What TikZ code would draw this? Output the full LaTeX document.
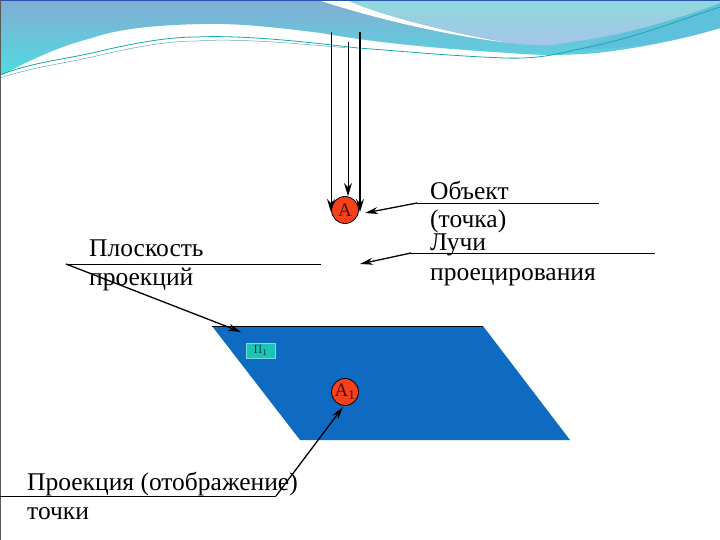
\documentclass[tikz,border=0pt]{standalone}
\usepackage{fontspec}
\setmainfont{Liberation Serif}
\usetikzlibrary{arrows.meta}
\definecolor{planeblue}{HTML}{0F6AC2}
\definecolor{dotred}{HTML}{F5401C}
\definecolor{tealbox}{HTML}{1CC4B8}
\definecolor{hdtop}{HTML}{82ADD2}
\definecolor{hdmid}{HTML}{80B8D8}
\definecolor{hdbot}{HTML}{4FDCE2}
\definecolor{paletop}{HTML}{8FD8DC}
\definecolor{palebot}{HTML}{A6C4EA}
\definecolor{bandteal}{HTML}{5FC0DC}
\tikzset{
 x=1pt,y=-1pt,
 lbl/.style={anchor=base west,inner sep=0,font=\fontsize{25.5}{25.5}\selectfont},
 pt/.style={circle,draw=black,line width=0.8pt,fill=dotred,minimum size=27pt,inner sep=0,text=black!70!dotred,font=\fontsize{19}{19}\selectfont},
 rule/.style={black,line width=0.9pt},
 arr/.style={black,line width=1.3pt,-{Stealth[length=13pt,width=7pt]}},
 ray/.style={black,line width=1pt,-{Stealth[length=13pt,width=8pt]}}
}
\begin{document}
\begin{tikzpicture}
\useasboundingbox (0,0) rectangle (720,540);
\fill[white] (0,0) rectangle (720,540);
% header waves
\shade[top color=hdtop,middle color=hdmid,bottom color=hdbot] (0,0) -- (720,0) -- (720,28) .. controls (680,40) and (640,48) .. (597,53) .. controls (560,56) and (530,55) .. (510,53) .. controls (440,49) and (370,42) .. (321,33) .. controls (280,28) and (240,23) .. (202,24) .. controls (160,25) and (120,28) .. (92,38) .. controls (60,46) and (30,60) .. (0,76) -- cycle;
\fill[bandteal] (720,2) -- (720,28) .. controls (680,40) and (640,48) .. (574,50) .. controls (620,35) and (680,15) .. (720,2) -- cycle;
\fill[white] (321,1) -- (349,1) .. controls (380,15) and (450,33) .. (510,43) .. controls (450,36) and (380,20) .. (321,1) -- cycle;
\shade[top color=paletop,bottom color=palebot] (349,1) -- (720,1) -- (720,3) .. controls (680,18) and (630,35) .. (551,45) .. controls (535,46) and (520,44) .. (510,43) .. controls (450,33) and (380,15) .. (349,1) -- cycle;
\draw[teal!60!cyan!80!gray,line width=0.8pt] (0,75) .. controls (30,63) and (60,60) .. (92,53) .. controls (130,44) and (165,37) .. (197,37) .. controls (240,35) and (300,41) .. (358,48) .. controls (400,51) and (450,56) .. (505,58) .. controls (535,59) and (555,55) .. (574,50) .. controls (630,40) and (680,20) .. (720,7);
\draw[gray!50!cyan,line width=0.5pt] (0,78) .. controls (30,68) and (60,64) .. (92,57) .. controls (130,48) and (165,41) .. (197,41) .. controls (240,38) and (300,44) .. (349,48);
\draw[teal!50!blue!70!gray,line width=1pt] (0,0.5) -- (720,0.5);
\draw[gray!70!black,line width=1pt] (0.5,0) -- (0.5,540) -- (720,540);
% plane
\fill[planeblue] (212,326) -- (483,326) -- (570,440) -- (300,440) -- cycle;
\draw[black,line width=0.7pt] (212,326) -- (483,326);
\node[fill=tealbox,draw=tealbox!60!white,line width=0.5pt,minimum width=29pt,minimum height=15pt,inner sep=0,font=\fontsize{13}{13}\selectfont,text=black!60!teal] (pi) at (260.5,350.5) {$\Pi_1$};
% points
\node[pt] (A) at (345,210) {A};
\node[pt] (A1) at (345,392) {A\textsubscript{1}};
% rays
\coordinate (r1s) at (331,32);
\coordinate (r1e) at (331,212);
\coordinate (r2s) at (348,42);
\coordinate (r2e) at (348,196);
\coordinate (r3s) at (360,32);
\coordinate (r3e) at (360,212);
\draw[ray] (r1s) -- (r1e);
\draw[ray,line width=0.8pt] (r2s) -- (r2e);
\draw[ray,line width=1.5pt] (r3s) -- (r3e);
% labels
\node[lbl] (t1) at (430,200) {Объект};
\node[lbl] (t2) at (430,228) {(точка)};
\node[lbl] (t3) at (430,251) {Лучи};
\node[lbl] (t4) at (430,280) {проецирования};
\node[lbl] (t5) at (89,256) {Плоскость};
\node[lbl] (t6) at (89,285) {проекций};
\node[lbl] (t7) at (27,490) {Проекция (отображение)};
\node[lbl] (t8) at (27,519) {точки};
% leaders
\coordinate (o1) at (599,203);
\coordinate (o2) at (417,203);
\coordinate (o3) at (365,213);
\draw[rule] (o1) -- (o2);
\draw[arr] (o2) -- (o3);
\coordinate (l1) at (655,253);
\coordinate (l2) at (411,253);
\coordinate (l3) at (360,264);
\draw[rule] (l1) -- (l2);
\draw[arr] (l2) -- (l3);
\coordinate (p1) at (321,264);
\coordinate (p2) at (66,264);
\coordinate (p3) at (241,332);
\draw[rule] (p1) -- (p2);
\draw[arr] (p2) -- (p3);
\coordinate (q1) at (0,496);
\coordinate (q2) at (276,496);
\coordinate (q3) at (343,407);
\draw[rule] (q1) -- (q2);
\draw[arr] (q2) -- (q3);
\end{tikzpicture}
\end{document}
